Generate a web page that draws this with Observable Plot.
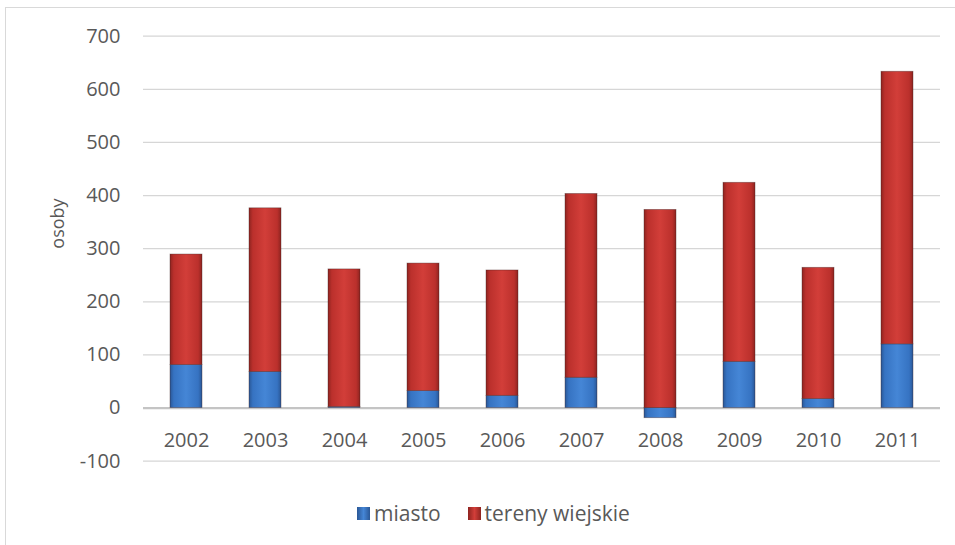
<!DOCTYPE html>
<html>
<head>
<meta charset="utf-8">
<script src="https://cdn.jsdelivr.net/npm/d3@7"></script>
<script src="https://cdn.jsdelivr.net/npm/@observablehq/plot@0.6"></script>
<style>
  html, body { margin: 0; padding: 0; background: #fff; width: 955px; height: 545px; overflow: hidden; }
  #frame { position: absolute; left: 5px; top: 7px; width: 1000px; height: 600px; border: 1px solid #d9d9d9; box-sizing: border-box; }
  #chart { position: absolute; left: 0; top: 0; }
  #legend { position: absolute; top: 499px; left: 357px; font-family: "Open Sans", sans-serif; font-size: 21px; color: #595959; display: flex; align-items: center; white-space: nowrap; }
  .sw { width: 13px; height: 13px; display: inline-block; margin-right: 4px; box-sizing: border-box; }
  .item { display: flex; align-items: center; margin-right: 27px; }
</style>
</head>
<body>
<div id="frame"></div>
<div id="chart"></div>
<div id="legend"></div>
<script>
const years = ["2002", "2003", "2004", "2005", "2006", "2007", "2008", "2009", "2010", "2011"];
const miasto = [81, 68, 2, 32, 23, 57, -19, 87, 17, 120];
const tereny = [208, 308, 259, 240, 236, 346, 373, 337, 247, 513];
const seriesNames = ["miasto", "tereny wiejskie"];
const yTicks = [-100, 0, 100, 200, 300, 400, 500, 600, 700];
const yLabel = "osoby";

const data = [];
years.forEach((y, i) => {
  data.push({year: y, series: seriesNames[0], value: miasto[i]});
  data.push({year: y, series: seriesNames[1], value: tereny[i]});
});

const textColor = "#595959";
const font = "'Open Sans', sans-serif";

const plot = Plot.plot({
  width: 955,
  height: 490,
  marginLeft: 143,
  marginRight: 15,
  marginTop: 35.7,
  marginBottom: 29.3,
  style: {fontFamily: font, color: textColor, background: "transparent"},
  x: {type: "band", domain: years, paddingInner: 0.6, paddingOuter: 0.3, axis: null},
  y: {domain: [-100, 700], ticks: yTicks},
  color: {domain: seriesNames, range: ["url(#gBlue)", "url(#gRed)"]},
  marks: [
    Plot.gridY(yTicks, {stroke: "#d6d6d6", strokeOpacity: 1, strokeWidth: 1.2}),
    Plot.ruleY([0], {stroke: "#c4c4c4", strokeWidth: 2.2}),
    Plot.barY(data, {x: "year", y: "value", fill: "series", order: seriesNames, stroke: "rgba(60,30,30,0.45)", strokeWidth: 0.8}),
    Plot.axisY(yTicks, {tickSize: 0, tickPadding: 23, fontSize: 20, label: null, fill: textColor, tickFormat: d => String(d)}),
    Plot.text(years, {x: d => d, y: () => 0, dy: 33, fontSize: 20, fill: textColor}),
    Plot.text([yLabel], {frameAnchor: "left", dx: -85, rotate: -90, fontSize: 18, fill: textColor})
  ]
});

// gradients for the bevelled look
const svg = d3.select(plot);
const defs = svg.insert("defs", ":first-child");
function grad(id, dark, mid, light) {
  const g = defs.append("linearGradient").attr("id", id).attr("x1", "0").attr("x2", "1").attr("y1", "0").attr("y2", "0");
  [[0, dark], [0.12, mid], [0.5, light], [0.88, mid], [1, dark]].forEach(([o, c]) =>
    g.append("stop").attr("offset", o).attr("stop-color", c));
}
grad("gBlue", "#2a5796", "#3673c2", "#4586d6");
grad("gRed", "#8e2420", "#bb302c", "#d23e39");

document.getElementById("chart").appendChild(plot);

// legend
const legend = d3.select("#legend");
const swatch = [
  "linear-gradient(90deg, #2a5796, #4586d6 50%, #2a5796)",
  "linear-gradient(90deg, #8e2420, #d23e39 50%, #8e2420)"
];
seriesNames.forEach((name, i) => {
  const it = legend.append("div").attr("class", "item");
  it.append("span").attr("class", "sw").style("background", swatch[i]);
  it.append("span").text(name);
});
</script>
</body>
</html>
